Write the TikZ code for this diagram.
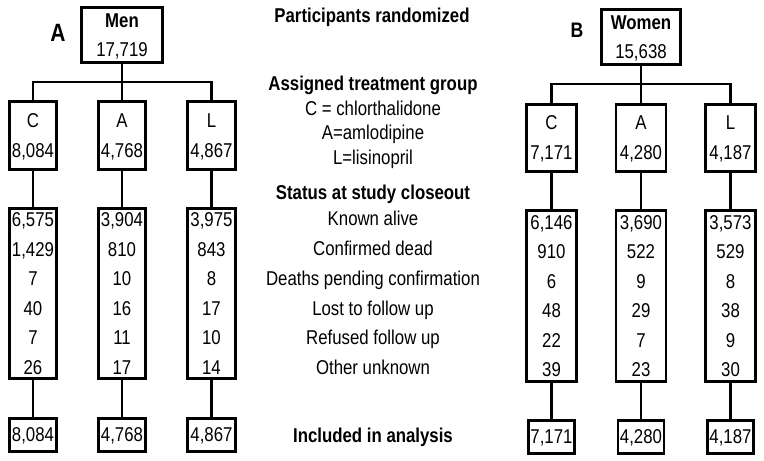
\documentclass[tikz,border=0pt]{standalone}
\usepackage{fontspec}
\setmainfont{Liberation Sans}[FakeStretch=0.84]
\begin{document}
\begin{tikzpicture}[x=1pt, y=-1pt, line width=2.8pt,
    box/.style={draw, align=center, inner sep=1pt, text depth=0pt,
      font=\fontsize{20}{29.5}\selectfont},
    lbl/.style={font=\fontsize{20}{22}\selectfont, inner sep=0pt,
      text height=14pt, text depth=0pt},
    head/.style={lbl, font=\fontsize{20}{22}\selectfont\bfseries}]
  \useasboundingbox (0,0) rectangle (764,461);

  % men
  \node[font=\fontsize{25}{25}\selectfont\bfseries] (pa) at (58,33) {A};
  \node[box, minimum width=81pt, minimum height=55pt,
    font=\fontsize{20}{29}\selectfont] (men) at (122,35) {\textbf{Men}\\17,719};
  \coordinate (mbus) at (122,82);
  \foreach \g/\x/\n/\s in {C/33/{8,084}/{6,575\\1,429\\7\\40\\7\\26},
      A/122/{4,768}/{3,904\\810\\10\\16\\11\\17},
      L/211.5/{4,867}/{3,975\\843\\8\\17\\10\\14}} {
    \node[box, minimum width=47.5pt, minimum height=67.5pt,
      font=\fontsize{20}{30}\selectfont] (m\g) at (\x,135.5) {\g\\\n};
    \node[box, minimum width=47.5pt, minimum height=170pt] (ms\g) at (\x,293.5) {\s};
    \node[box, minimum width=47.5pt, minimum height=33pt] (mi\g) at (\x,435) {\n};
    \draw (m\g) -- (ms\g);
    \draw (ms\g) -- (mi\g);
  }
  \draw (men) -- (mbus);
  \draw (mA) -- (mbus);
  \draw (mC) |- (mbus) -| (mL);

  % labels in the middle
  \node[head] (rand) at (372,15) {Participants randomized};
  \node[head] (assign) at (373,83) {Assigned treatment group};
  \node[lbl] (gc) at (373,108) {C = chlorthalidone};
  \node[lbl] (ga) at (373,132) {A=amlodipine};
  \node[lbl] (gl) at (373,157) {L=lisinopril};
  \node[head] (status) at (373,192) {Status at study closeout};
  \node[lbl] (s1) at (373,218) {Known alive};
  \node[lbl] (s2) at (373,248) {Confirmed dead};
  \node[lbl] (s3) at (373,278) {Deaths pending confirmation};
  \node[lbl] (s4) at (373,308) {Lost to follow up};
  \node[lbl] (s5) at (373,337) {Refused follow up};
  \node[lbl] (s6) at (373,367) {Other unknown};
  \node[head] (incl) at (373,435) {Included in analysis};

  % women
  \node[font=\fontsize{21}{21}\selectfont\bfseries] (pb) at (577,30) {B};
  \node[box, minimum width=79pt, minimum height=55pt,
    font=\fontsize{20}{29}\selectfont] (women) at (641,37) {\textbf{Women}\\15,638};
  \coordinate (wbus) at (641,84);
  \foreach \g/\x/\n/\s in {C/551.5/{7,171}/{6,146\\910\\6\\48\\22\\39},
      A/641/{4,280}/{3,690\\522\\9\\29\\7\\23},
      L/730.5/{4,187}/{3,573\\529\\8\\38\\9\\30}} {
    \node[box, minimum width=50pt, minimum height=67pt,
      font=\fontsize{20}{30}\selectfont] (w\g) at (\x,138) {\g\\\n};
    \node[box, minimum width=50pt, minimum height=171pt] (ws\g) at (\x,296) {\s};
    \node[box, minimum width=46pt, minimum height=33pt] (wi\g) at (\x,437) {\n};
    \draw (w\g) -- (ws\g);
    \draw (ws\g) -- (wi\g);
  }
  \draw (women) -- (wbus);
  \draw (wA) -- (wbus);
  \draw (wC) |- (wbus) -| (wL);
\end{tikzpicture}
\end{document}
